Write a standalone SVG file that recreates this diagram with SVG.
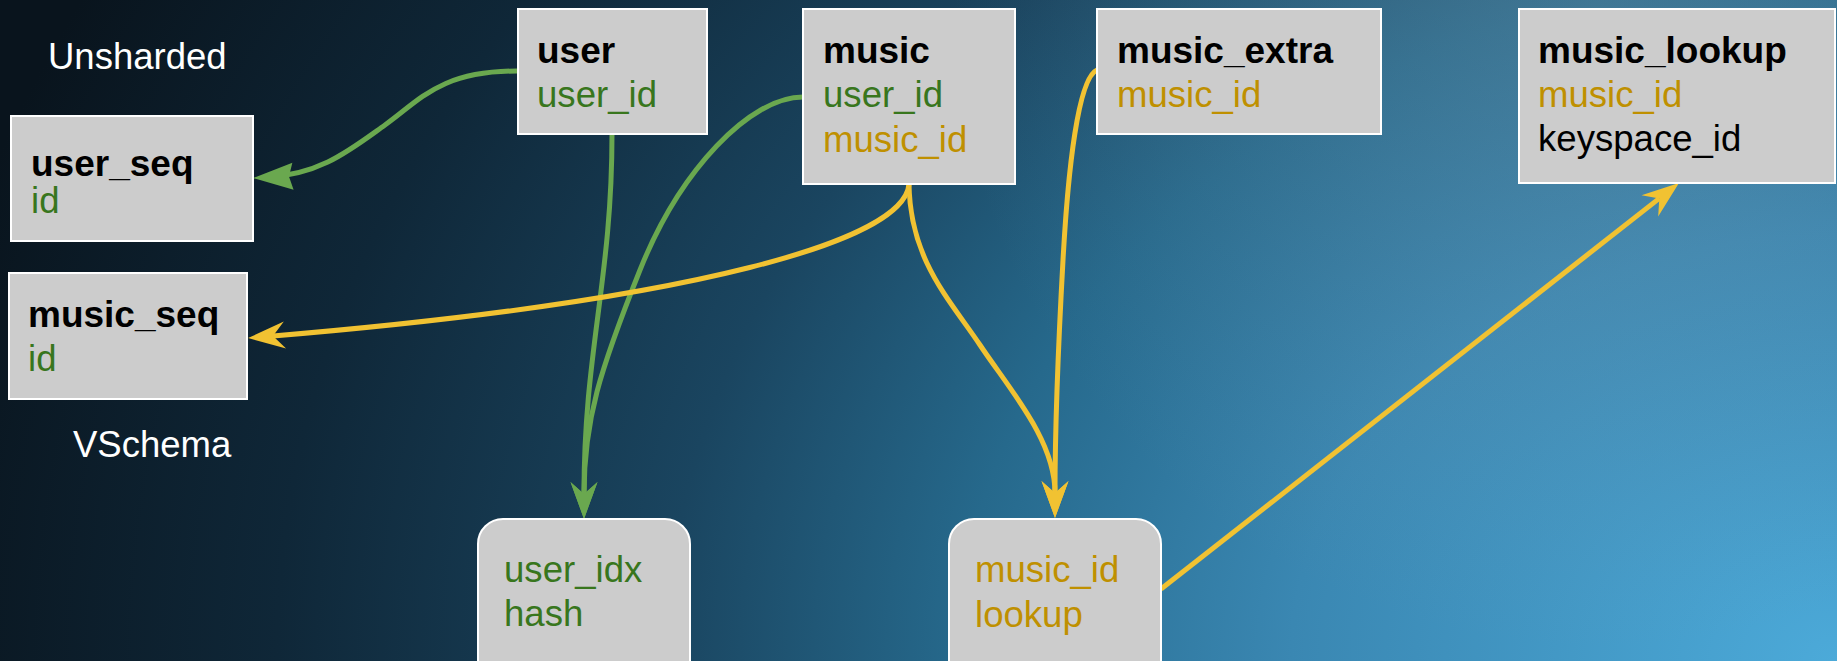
<svg xmlns="http://www.w3.org/2000/svg" width="1837" height="661" viewBox="0 0 1837 661">
  <defs>
    <radialGradient id="bg" gradientUnits="userSpaceOnUse" cx="1837" cy="661" r="1950" gradientTransform="translate(1837 661) scale(1 0.78) translate(-1837 -661)">
      <stop offset="0" stop-color="#4caad9"/>
      <stop offset="0.28" stop-color="#3a87b2"/>
      <stop offset="0.45" stop-color="#26698c"/>
      <stop offset="0.6" stop-color="#1a4560"/>
      <stop offset="0.8" stop-color="#0f2738"/>
      <stop offset="1" stop-color="#09141d"/>
    </radialGradient>
    <radialGradient id="haze" gradientUnits="userSpaceOnUse" cx="1600" cy="0" r="650">
      <stop offset="0" stop-color="#7f98a8" stop-opacity="0.3"/>
      <stop offset="1" stop-color="#7f98a8" stop-opacity="0"/>
    </radialGradient>
    <marker id="stealthG" markerUnits="userSpaceOnUse" orient="auto" refX="0" refY="0" markerWidth="40" markerHeight="30" overflow="visible">
      <path d="M 25 0 L -12 -13.5 L 0 0 L -12 13.5 Z" fill="#6aa84f"/>
    </marker>
    <marker id="stealthY" markerUnits="userSpaceOnUse" orient="auto" refX="0" refY="0" markerWidth="40" markerHeight="30" overflow="visible">
      <path d="M 25 0 L -12 -13.5 L 0 0 L -12 13.5 Z" fill="#f1c232"/>
    </marker>
    <marker id="triG" markerUnits="userSpaceOnUse" orient="auto" refX="0" refY="0" markerWidth="40" markerHeight="30" overflow="visible">
      <path d="M 12 0 L -28 -13.5 L -24 0 L -28 13.5 Z" fill="#6aa84f"/>
    </marker>
    <style>
      .box { fill: #cccccc; stroke: #ffffff; stroke-width: 2; }
      text { font-family: "Liberation Sans", Arial, Helvetica, sans-serif; font-size: 36.6px; }
      .title { font-weight: bold; font-size: 37px; fill: #000000; }
      .g { fill: #38761d; }
      .y { fill: #bf9000; }
      .k { fill: #000000; }
      .label { fill: #ffffff; font-size: 36.5px; }
      .cg { fill: none; stroke: #6aa84f; stroke-width: 5; }
      .cy { fill: none; stroke: #f1c232; stroke-width: 5; }
    </style>
  </defs>

  <rect x="0" y="0" width="1837" height="661" fill="url(#bg)"/>
  <rect x="0" y="0" width="1837" height="661" fill="url(#haze)"/>

  <text class="label" x="48" y="69">Unsharded</text>
  <text class="label" x="73" y="457">VSchema</text>

  <g id="connectors">
    <path class="cg" d="M 517 71 C 440 71, 420 100, 385 125 C 350 150, 320 175, 265 177.5" marker-end="url(#triG)"/>
    <path class="cg" d="M 612 134 C 612 280, 584 350, 584 494" marker-end="url(#stealthG)"/>
    <path class="cg" d="M 803 97 C 750 97, 680 170, 640 270 S 584 420, 584 494" marker-end="url(#stealthG)"/>
    <path class="cy" d="M 909 184 C 905 240, 700 300, 273 336" marker-end="url(#stealthY)"/>
    <path class="cy" d="M 909 184 C 910 260, 950 300, 980 345 S 1055 440, 1055 493" marker-end="url(#stealthY)"/>
    <path class="cy" d="M 1097 70 C 1078 78, 1068 170, 1063 260 S 1055 440, 1055 493" marker-end="url(#stealthY)"/>
    <path class="cy" d="M 1161 589 L 1659.3 198.4" marker-end="url(#stealthY)"/>
  </g>

  <g id="user">
    <rect class="box" x="518" y="9" width="189" height="125"/>
    <text class="title" x="537" y="63">user</text>
    <text class="g" x="537" y="107">user_id</text>
  </g>

  <g id="music">
    <rect class="box" x="803" y="9" width="212" height="175"/>
    <text class="title" x="823" y="63">music</text>
    <text class="g" x="823" y="107">user_id</text>
    <text class="y" x="823" y="152">music_id</text>
  </g>

  <g id="music_extra">
    <rect class="box" x="1097" y="9" width="284" height="125"/>
    <text class="title" x="1117" y="63">music_extra</text>
    <text class="y" x="1117" y="107">music_id</text>
  </g>

  <g id="music_lookup">
    <rect class="box" x="1519" y="9" width="316" height="174"/>
    <text class="title" x="1538" y="63">music_lookup</text>
    <text class="y" x="1538" y="107">music_id</text>
    <text class="k" x="1538" y="151">keyspace_id</text>
  </g>

  <g id="user_seq">
    <rect class="box" x="11" y="116" width="242" height="125"/>
    <text class="title" x="31" y="176">user_seq</text>
    <text class="g" x="31" y="213">id</text>
  </g>

  <g id="music_seq">
    <rect class="box" x="9" y="273" width="238" height="126"/>
    <text class="title" x="28" y="327">music_seq</text>
    <text class="g" x="28" y="371">id</text>
  </g>

  <g id="user_idx">
    <rect class="box" x="478" y="519" width="212" height="170" rx="25" ry="25"/>
    <text class="g" x="504" y="582">user_idx</text>
    <text class="g" x="504" y="626">hash</text>
  </g>

  <g id="music_lookup_vindex">
    <rect class="box" x="949" y="519" width="212" height="170" rx="25" ry="25"/>
    <text class="y" x="975" y="582">music_id</text>
    <text class="y" x="975" y="627">lookup</text>
  </g>
</svg>
